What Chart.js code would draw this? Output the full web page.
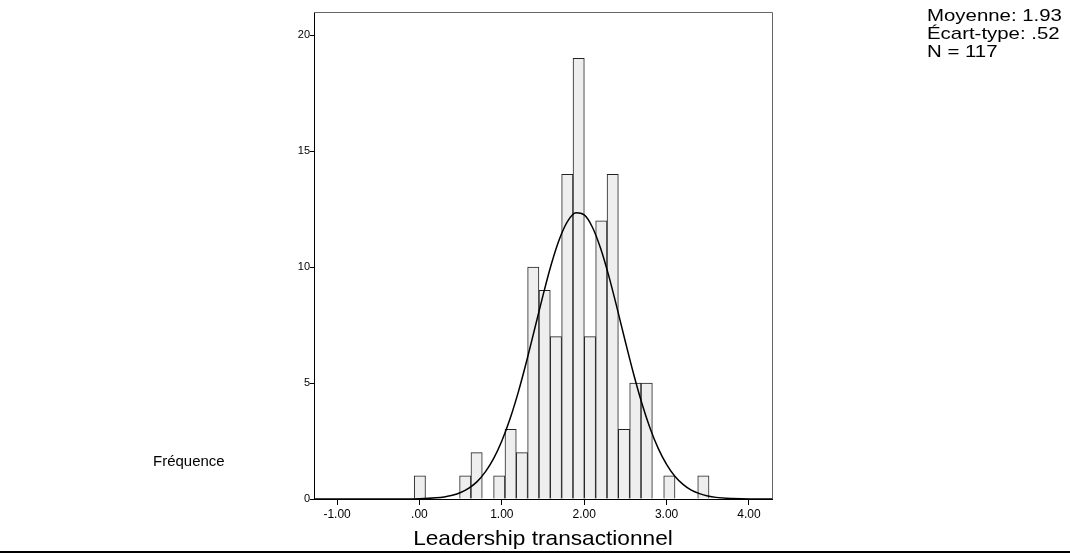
<!DOCTYPE html>
<html>
<head>
<meta charset="utf-8">
<script src="https://cdn.jsdelivr.net/npm/chart.js@4.4.1/dist/chart.umd.min.js"></script>
<style>
  html, body { margin: 0; padding: 0; background: #fff; }
  canvas { display: block; }
</style>
</head>
<body>
<canvas id="c" width="1070" height="554"></canvas>
<script>
// histogram: bin centres and frequencies
const binCenters = [0.005, 0.143, 0.280, 0.418, 0.556, 0.694, 0.831, 0.969, 1.107, 1.244,
                    1.382, 1.520, 1.657, 1.795, 1.933, 2.070, 2.208, 2.346, 2.483, 2.621,
                    2.759, 2.896, 3.034, 3.172, 3.309, 3.447];
const counts = [1, 0, 0, 0, 1, 2, 0, 1, 3, 2,
                10, 9, 7, 14, 19, 7, 12, 14, 3, 5,
                5, 0, 1, 0, 0, 1];

// normal curve, values
const curveX = [-1.28, -0.2, 0.0, 0.2, 0.3, 0.4, 0.5, 0.6, 0.7, 0.8, 0.9, 1.0, 1.1, 1.2, 1.3,
                1.4, 1.5, 1.6, 1.7, 1.8, 1.9, 2.0, 2.1, 2.2, 2.3, 2.4, 2.5, 2.6, 2.7, 2.8,
                2.9, 3.0, 3.1, 3.2, 3.3, 3.4, 3.5, 3.6, 3.8, 4.0, 4.28];
const curveY = [0, 0, 0.01, 0.05, 0.09, 0.16, 0.28, 0.47, 0.75, 1.17, 1.74, 2.50, 3.46, 4.61, 5.93,
                7.35, 8.78, 10.11, 11.21, 11.98, 12.34, 12.25, 11.72, 10.80, 9.60, 8.22, 6.78, 5.39, 4.13, 3.05,
                2.17, 1.49, 0.98, 0.63, 0.38, 0.23, 0.13, 0.07, 0.02, 0, 0];

const xTickValues = [-1, 0, 1, 2, 3, 4];
const xTickLabels = ['-1.00', '.00', '1.00', '2.00', '3.00', '4.00'];
const yTickValues = [0, 5, 10, 15, 20];

const statsLines = ['Moyenne: 1.93', 'Écart-type: .52', 'N = 117'];
const xTitle = 'Leadership transactionnel';
const yTitle = 'Fréquence';

const FONT = '"Liberation Sans", Arial, sans-serif';

function stretchedText(ctx, txt, x, y, size, sx, align) {
  ctx.save();
  ctx.font = size + 'px ' + FONT;
  ctx.fillStyle = '#000';
  ctx.textBaseline = 'alphabetic';
  ctx.textAlign = 'left';
  var w = ctx.measureText(txt).width * sx;
  var left = align === 'center' ? x - w / 2 : x;
  ctx.translate(left, y);
  ctx.scale(sx, 1);
  ctx.fillText(txt, 0, 0);
  ctx.restore();
}

const decorations = {
  id: 'decorations',
  afterDraw(chart) {
    var ctx = chart.ctx;
    var a = chart.chartArea;
    // top and right edges of the frame
    ctx.save();
    ctx.strokeStyle = '#666';
    ctx.lineWidth = 1;
    ctx.beginPath();
    ctx.moveTo(a.left, a.top + 0.5);
    ctx.lineTo(a.right + 0.5, a.top + 0.5);
    ctx.lineTo(a.right + 0.5, a.bottom);
    ctx.stroke();
    // rule along the bottom of the picture
    ctx.fillStyle = '#000';
    ctx.fillRect(0, 551, chart.width, 2);
    ctx.restore();

    stretchedText(ctx, xTitle, (a.left + a.right) / 2, 545, 21, 1.08, 'center');
    stretchedText(ctx, yTitle, 153, 466, 14, 1.07, 'left');
    for (var i = 0; i < statsLines.length; i++) {
      stretchedText(ctx, statsLines[i], 927, 21 + i * 18, 17, 1.2, 'left');
    }
  }
};

new Chart(document.getElementById('c'), {
  type: 'bar',
  data: {
    datasets: [
      {
        type: 'line',
        data: curveX.map((x, i) => ({ x: x, y: curveY[i] })),
        borderColor: '#000',
        borderWidth: 1.5,
        pointRadius: 0,
        fill: false,
        cubicInterpolationMode: 'monotone',
        order: 0
      },
      {
        type: 'bar',
        data: binCenters.map((x, i) => ({ x: x, y: counts[i] })),
        backgroundColor: '#eeeeee',
        borderColor: '#222',
        borderWidth: 1,
        borderSkipped: 'bottom',
        barPercentage: 1,
        categoryPercentage: 1,
        order: 1
      }
    ]
  },
  options: {
    responsive: false,
    animation: false,
    devicePixelRatio: 1,
    layout: { padding: { left: 0, right: 298, top: 12, bottom: 0 } },
    plugins: { legend: { display: false }, tooltip: { enabled: false } },
    scales: {
      x: {
        type: 'linear',
        min: -1.28,
        max: 4.28,
        offset: false,
        afterFit: s => { s.height = 55; },
        afterBuildTicks: s => { s.ticks = xTickValues.map(v => ({ value: v })); },
        grid: { display: true, drawOnChartArea: false, drawTicks: true, tickLength: 6, color: '#000', offset: false },
        border: { display: true, color: '#000', width: 1 },
        ticks: {
          autoSkip: false,
          maxRotation: 0,
          padding: 2,
          color: '#000',
          font: { family: FONT, size: 12 },
          callback: (v) => xTickLabels[xTickValues.indexOf(v)]
        }
      },
      y: {
        min: 0,
        max: 21,
        afterFit: s => { s.width = 314; },
        afterBuildTicks: s => { s.ticks = yTickValues.map(v => ({ value: v })); },
        grid: { display: true, drawOnChartArea: false, drawTicks: true, tickLength: 4, color: '#000' },
        border: { display: true, color: '#000', width: 1 },
        ticks: {
          padding: 0,
          color: '#000',
          font: { family: FONT, size: 11 }
        }
      }
    }
  },
  plugins: [decorations]
});
</script>
</body>
</html>
